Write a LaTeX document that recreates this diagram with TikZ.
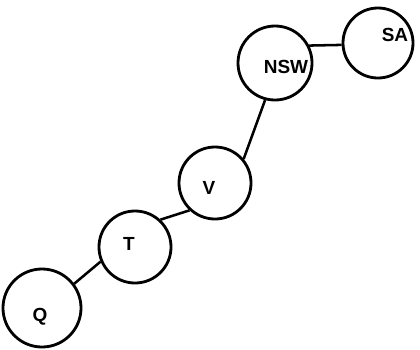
\documentclass[tikz,border=0pt]{standalone}
\usepackage{fontspec}
\setmainfont{Liberation Sans}
\begin{document}
\begin{tikzpicture}[x=0.025cm,y=-0.025cm,
  region/.style={circle,draw=black,line width=2pt,fill=white,inner sep=0pt},
  txt/.style={font=\fontsize{13.5}{15}\selectfont\bfseries},
  link/.style={line width=1.8pt}]
\useasboundingbox[fill=white] (0,0) rectangle (420,349);
\node[region,minimum size=1.95cm,label={[txt,xshift=-0.05cm,yshift=-0.225cm]center:Q}] (Q) at (42,308) {};
\node[region,minimum size=1.8cm,label={[txt,xshift=-0.15cm,yshift=0.075cm]center:T}] (T) at (135,247) {};
\node[region,minimum size=1.8cm,label={[txt,xshift=-0.15cm,yshift=-0.125cm]center:V}] (V) at (215,183) {};
\node[region,minimum size=1.85cm,label={[txt,xshift=0.275cm,yshift=-0.1cm]center:NSW}] (NSW) at (275,63) {};
\node[region,minimum size=1.75cm,label={[txt,xshift=0.425cm,yshift=0.2cm]center:SA}] (SA) at (378,43) {};
\draw[link] (Q.37) -- (T.203);
\draw[link] (T.47) -- (V.227);
\draw[link] (V.40) -- (NSW.255);
\draw[link] (NSW.27) -- (SA.183);
\end{tikzpicture}
\end{document}
